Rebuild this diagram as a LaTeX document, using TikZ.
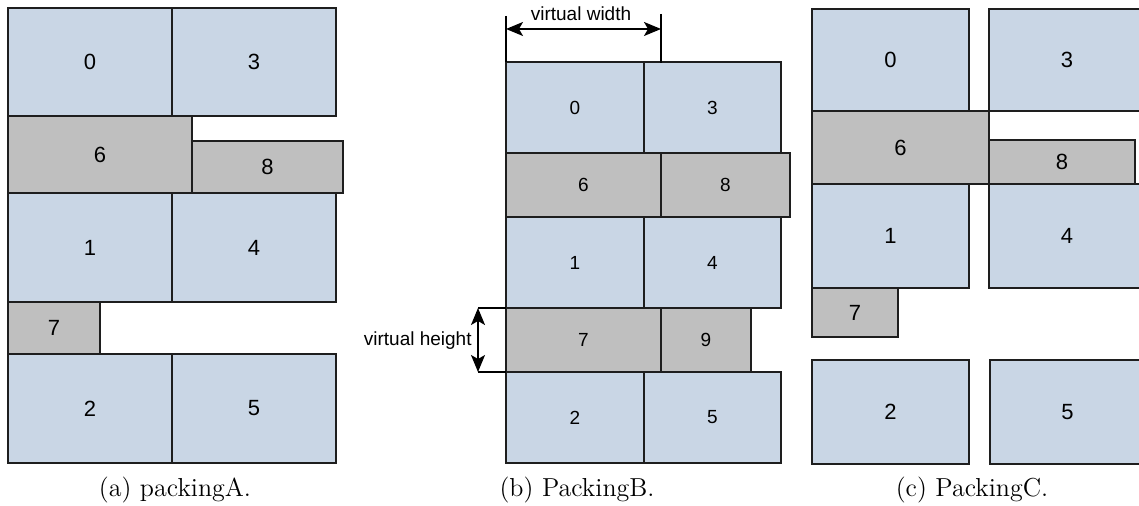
\documentclass[tikz,border=0pt]{standalone}
\usepackage{fontspec}
\newfontfamily\labelfont{Liberation Sans}
\usetikzlibrary{fit,arrows.meta}

\definecolor{cellblue}{HTML}{C9D6E5}
\definecolor{cellgrey}{HTML}{BFBFBF}
\definecolor{edge}{HTML}{1E1E1E}

\tikzset{
  cellbase/.style={draw=edge, line width=0.6pt, inner sep=0pt},
  bigcell/.style={cellbase, label={[font=\labelfont\fontsize{11}{13}\selectfont, inner sep=0pt]center:#1}},
  smallcell/.style={cellbase, label={[font=\labelfont\fontsize{9.5}{11}\selectfont, inner sep=0pt]center:#1}},
  blue/.style={fill=cellblue},
  grey/.style={fill=cellgrey},
  caption/.style={font=\fontsize{13}{15}\selectfont},
  dimtext/.style={font=\labelfont\fontsize{9.5}{11}\selectfont, inner sep=1pt},
  tick/.style={draw=black, line width=0.6pt},
  dimarrow/.style={line width=0.8pt,
    {Stealth[length=8.5pt,width=7pt,inset=2pt]}-{Stealth[length=8.5pt,width=7pt,inset=2pt]}},
}

\begin{document}
\begin{tikzpicture}[x=0.5pt, y=-0.5pt]
  \clip (0,0) rectangle (1139,506);
  \fill[white] (0,0) rectangle (1139,506);

  % ---------- (a) packingA ----------
  \node[bigcell=0, blue, fit={(8,8) (172,116)}]   (a0) {};
  \node[bigcell=3, blue, fit={(172,8) (336,116)}] (a3) {};
  \node[bigcell=6, grey, fit={(8,116) (192,193)}]   (a6) {};
  \node[bigcell=8, grey, fit={(192,141) (343,193)}] (a8) {};
  \node[bigcell=1, blue, fit={(8,193) (172,302)}]   (a1) {};
  \node[bigcell=4, blue, fit={(172,193) (336,302)}] (a4) {};
  \node[bigcell=7, grey, fit={(8,302) (100,354)}]   (a7) {};
  \node[bigcell=2, blue, fit={(8,354) (172,463)}]   (a2) {};
  \node[bigcell=5, blue, fit={(172,354) (336,463)}] (a5) {};
  \node[caption] (capA) at (175,490) {(a) packingA.};

  % ---------- (b) PackingB ----------
  \node[smallcell=0, blue, fit={(506,62) (644,153)}]  (b0) {};
  \node[smallcell=3, blue, fit={(644,62) (781,153)}]  (b3) {};
  \node[smallcell=6, grey, fit={(506,153) (661,217)}] (b6) {};
  \node[smallcell=8, grey, fit={(661,153) (790,217)}] (b8) {};
  \node[smallcell=1, blue, fit={(506,217) (644,308)}] (b1) {};
  \node[smallcell=4, blue, fit={(644,217) (781,308)}] (b4) {};
  \node[smallcell=7, grey, fit={(506,308) (661,372)}] (b7) {};
  \node[smallcell=9, grey, fit={(661,308) (751,372)}] (b9) {};
  \node[smallcell=2, blue, fit={(506,372) (644,463)}] (b2) {};
  \node[smallcell=5, blue, fit={(644,372) (781,463)}] (b5) {};
  \node[caption] (capB) at (577,490) {(b) PackingB.};

  % virtual width dimension
  \coordinate (vwLtop) at (506,16);
  \coordinate (vwLbot) at (506,62);
  \coordinate (vwRtop) at (661,14);
  \coordinate (vwRbot) at (661,63);
  \coordinate (vwL) at (506,29);
  \coordinate (vwR) at (661,29);
  \draw[tick] (vwLtop) -- (vwLbot);
  \draw[tick] (vwRtop) -- (vwRbot);
  \draw[dimarrow] (vwL) -- (vwR);
  \node[dimtext, anchor=base] (vwtext) at (581,21) {virtual width};

  % virtual height dimension
  \coordinate (vhTl) at (478,308);
  \coordinate (vhTr) at (506,308);
  \coordinate (vhBl) at (478,372);
  \coordinate (vhBr) at (506,372);
  \draw[tick] (vhTl) -- (vhTr);
  \draw[tick] (vhBl) -- (vhBr);
  \draw[dimarrow] (vhTl) -- (vhBl);
  \node[dimtext, anchor=east] (vhtext) at (474,341) {virtual height};

  % ---------- (c) PackingC ----------
  \node[bigcell=0, blue, fit={(812,9) (969,111)}]    (c0) {};
  \node[bigcell=3, blue, fit={(989,9) (1145,111)}]   (c3) {};
  \node[bigcell=6, grey, fit={(812,111) (989,184)}]  (c6) {};
  \node[bigcell=8, grey, fit={(989,140) (1135,184)}] (c8) {};
  \node[bigcell=1, blue, fit={(812,184) (969,288)}]  (c1) {};
  \node[bigcell=4, blue, fit={(989,184) (1145,288)}] (c4) {};
  \node[bigcell=7, grey, fit={(812,288) (898,337)}]  (c7) {};
  \node[bigcell=2, blue, fit={(812,360) (969,464)}]  (c2) {};
  \node[bigcell=5, blue, fit={(990,360) (1145,464)}] (c5) {};
  \node[caption] (capC) at (972,490) {(c) PackingC.};
\end{tikzpicture}
\end{document}
